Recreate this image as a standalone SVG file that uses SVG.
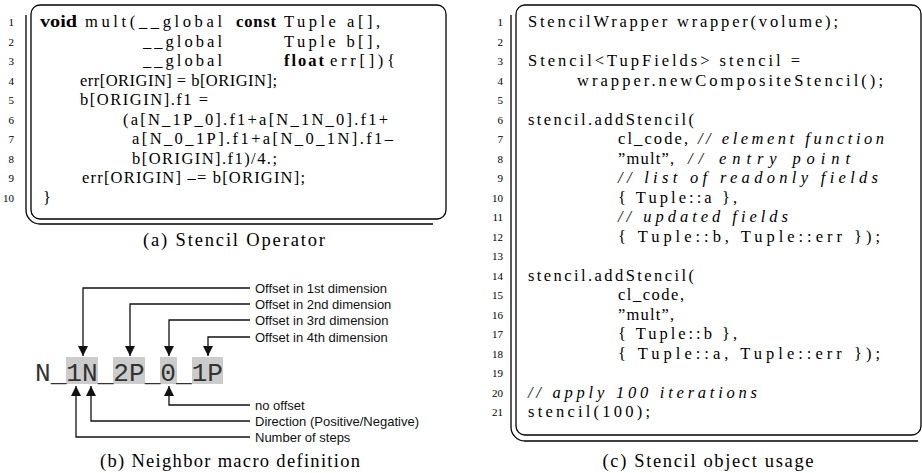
<svg xmlns="http://www.w3.org/2000/svg" width="922" height="473" viewBox="0 0 922 473">
<style>
.code{font-family:"Liberation Serif","DejaVu Serif",serif;font-size:16.5px;fill:#000;}
.b{font-weight:bold;}
.i{font-style:italic;}
.ln{font-family:"Liberation Serif","DejaVu Serif",serif;font-size:11px;fill:#000;text-anchor:end;}
.cap{font-family:"Liberation Serif","DejaVu Serif",serif;font-size:18.5px;fill:#000;}
.frame{fill:none;stroke:#000;stroke-width:1.3;}
.lbl{font-family:"Liberation Sans",Arial,sans-serif;font-size:13px;fill:#111;}
.macro{font-family:"Liberation Mono","Courier New",monospace;font-size:26px;fill:#333;}
.hl{fill:#cccccc;}
.conn{fill:none;stroke:#111;stroke-width:1.3;}
</style>
<defs>
<marker id="arr" markerUnits="userSpaceOnUse" markerWidth="10" markerHeight="12" viewBox="0 0 10 12" refX="10" refY="5" orient="auto">
<path d="M0,0 L10,5 L0,10 z" fill="#111"/>
</marker>
</defs>

<g id="panel-a">
<rect class="frame" x="31" y="5" width="415" height="214" rx="9"/>
<path class="frame" d="M26,15 V210 A14,14 0 0 0 40,224 H433"/>
<g>
<text class="ln" x="14" y="26">1</text>
<text class="ln" x="14" y="45.5">2</text>
<text class="ln" x="14" y="65">3</text>
<text class="ln" x="14" y="84.5">4</text>
<text class="ln" x="14" y="104">5</text>
<text class="ln" x="14" y="123.5">6</text>
<text class="ln" x="14" y="143">7</text>
<text class="ln" x="14" y="162.5">8</text>
<text class="ln" x="14" y="182">9</text>
<text class="ln" x="14" y="201.5">10</text>
</g>
<text class="code b" x="40" y="27" textLength="37" lengthAdjust="spacingAndGlyphs">void</text>
<text class="code" x="85" y="27" textLength="137" lengthAdjust="spacing">mult(__global</text>
<text class="code b" x="236" y="27" textLength="40" lengthAdjust="spacing">const</text>
<text class="code" x="284" y="27" textLength="96" lengthAdjust="spacing">Tuple a[],</text>
<text class="code" x="143" y="46.5" textLength="79" lengthAdjust="spacing">__global</text>
<text class="code" x="284" y="46.5" textLength="96" lengthAdjust="spacing">Tuple b[],</text>
<text class="code" x="143" y="66" textLength="79" lengthAdjust="spacing">__global</text>
<text class="code b" x="284" y="66" textLength="40" lengthAdjust="spacing">float</text>
<text class="code" x="330" y="66" textLength="65" lengthAdjust="spacing">err[]){</text>
<text class="code" x="80" y="85.5" textLength="197" lengthAdjust="spacing">err[ORIGIN] = b[ORIGIN];</text>
<text class="code" x="80" y="105" textLength="128" lengthAdjust="spacing">b[ORIGIN].f1 =</text>
<text class="code" x="123" y="124.5" textLength="265" lengthAdjust="spacing">(a[N_1P_0].f1+a[N_1N_0].f1+</text>
<text class="code" x="132" y="144" textLength="261" lengthAdjust="spacing">a[N_0_1P].f1+a[N_0_1N].f1–</text>
<text class="code" x="132" y="163.5" textLength="145" lengthAdjust="spacing">b[ORIGIN].f1)/4.;</text>
<text class="code" x="82" y="183" textLength="223" lengthAdjust="spacing">err[ORIGIN] –= b[ORIGIN];</text>
<text class="code" x="43" y="202.5">}</text>
<text class="cap" x="234" y="246" text-anchor="middle" textLength="182" lengthAdjust="spacing">(a) Stencil Operator</text>
</g>

<g id="panel-b">
<g id="macro">
<rect class="hl" x="66" y="357" width="32" height="27"/>
<rect class="hl" x="113" y="357" width="32" height="27"/>
<rect class="hl" x="160" y="357" width="17" height="27"/>
<rect class="hl" x="192" y="357" width="31" height="27"/>
<text class="macro" x="35" y="381" textLength="188" lengthAdjust="spacingAndGlyphs">N_1N_2P_0_1P</text>
</g>
<g id="label-dim1"><text class="lbl" x="255" y="292.5">Offset in 1st dimension</text></g>
<g id="label-dim2"><text class="lbl" x="255" y="308.5">Offset in 2nd dimension</text></g>
<g id="label-dim3"><text class="lbl" x="255" y="324.5">Offset in 3rd dimension</text></g>
<g id="label-dim4"><text class="lbl" x="255" y="341.5">Offset in 4th dimension</text></g>
<g id="label-nooffset"><text class="lbl" x="255" y="409.5">no offset</text></g>
<g id="label-direction"><text class="lbl" x="255" y="425.5">Direction (Positive/Negative)</text></g>
<g id="label-steps"><text class="lbl" x="255" y="441.5">Number of steps</text></g>
<g id="connectors">
<path class="conn" d="M250,288 H83 V356" marker-end="url(#arr)"/>
<path class="conn" d="M250,304 H130 V356" marker-end="url(#arr)"/>
<path class="conn" d="M250,320 H169 V356" marker-end="url(#arr)"/>
<path class="conn" d="M250,337 H208 V356" marker-end="url(#arr)"/>
<path class="conn" d="M250,405 H169 V386" marker-end="url(#arr)"/>
<path class="conn" d="M250,421 H91 V386" marker-end="url(#arr)"/>
<path class="conn" d="M250,437 H76 V386" marker-end="url(#arr)"/>
</g>
<text class="cap" x="230" y="467" text-anchor="middle" textLength="260" lengthAdjust="spacing">(b) Neighbor macro definition</text>
</g>

<g id="panel-c">
<rect class="frame" x="516" y="5" width="405" height="430" rx="9"/>
<path class="frame" d="M511,15 V427 A14,14 0 0 0 525,441 H918"/>
<g>
<text class="ln" x="503" y="26">1</text>
<text class="ln" x="503" y="45.5">2</text>
<text class="ln" x="503" y="65">3</text>
<text class="ln" x="503" y="84.5">4</text>
<text class="ln" x="503" y="104">5</text>
<text class="ln" x="503" y="123.5">6</text>
<text class="ln" x="503" y="143">7</text>
<text class="ln" x="503" y="162.5">8</text>
<text class="ln" x="503" y="182">9</text>
<text class="ln" x="503" y="201.5">10</text>
<text class="ln" x="503" y="221">11</text>
<text class="ln" x="503" y="240.5">12</text>
<text class="ln" x="503" y="260">13</text>
<text class="ln" x="503" y="279.5">14</text>
<text class="ln" x="503" y="299">15</text>
<text class="ln" x="503" y="318.5">16</text>
<text class="ln" x="503" y="338">17</text>
<text class="ln" x="503" y="357.5">18</text>
<text class="ln" x="503" y="377">19</text>
<text class="ln" x="503" y="396.5">20</text>
<text class="ln" x="503" y="416">21</text>
</g>
<text class="code" x="528" y="27" textLength="310" lengthAdjust="spacing">StencilWrapper wrapper(volume);</text>
<text class="code" x="528" y="66" textLength="272" lengthAdjust="spacing">Stencil&lt;TupFields&gt; stencil =</text>
<text class="code" x="577" y="85.5" textLength="306" lengthAdjust="spacing">wrapper.newCompositeStencil();</text>
<text class="code" x="528" y="124.5" textLength="166" lengthAdjust="spacing">stencil.addStencil(</text>
<text class="code" x="618" y="144" textLength="70" lengthAdjust="spacing">cl_code,</text>
<text class="code i" x="698" y="144" textLength="186" lengthAdjust="spacing">// element function</text>
<text class="code" x="618" y="163.5" textLength="56" lengthAdjust="spacing">”mult”,</text>
<text class="code i" x="688" y="163.5" textLength="162" lengthAdjust="spacing">// entry point</text>
<text class="code i" x="618" y="183" textLength="260" lengthAdjust="spacing">// list of readonly fields</text>
<text class="code" x="618" y="202.5" textLength="119" lengthAdjust="spacing">{ Tuple::a },</text>
<text class="code i" x="618" y="222" textLength="170" lengthAdjust="spacing">// updated fields</text>
<text class="code" x="618" y="241.5" textLength="262" lengthAdjust="spacing">{ Tuple::b, Tuple::err });</text>
<text class="code" x="528" y="280.5" textLength="166" lengthAdjust="spacing">stencil.addStencil(</text>
<text class="code" x="618" y="300" textLength="66" lengthAdjust="spacing">cl_code,</text>
<text class="code" x="618" y="319.5" textLength="56" lengthAdjust="spacing">”mult”,</text>
<text class="code" x="618" y="339" textLength="119" lengthAdjust="spacing">{ Tuple::b },</text>
<text class="code" x="618" y="358.5" textLength="262" lengthAdjust="spacing">{ Tuple::a, Tuple::err });</text>
<text class="code i" x="528" y="397.5" textLength="229" lengthAdjust="spacing">// apply 100 iterations</text>
<text class="code" x="528" y="417" textLength="122" lengthAdjust="spacing">stencil(100);</text>
<text class="cap" x="708" y="467" text-anchor="middle" textLength="211" lengthAdjust="spacing">(c) Stencil object usage</text>
</g>
</svg>
